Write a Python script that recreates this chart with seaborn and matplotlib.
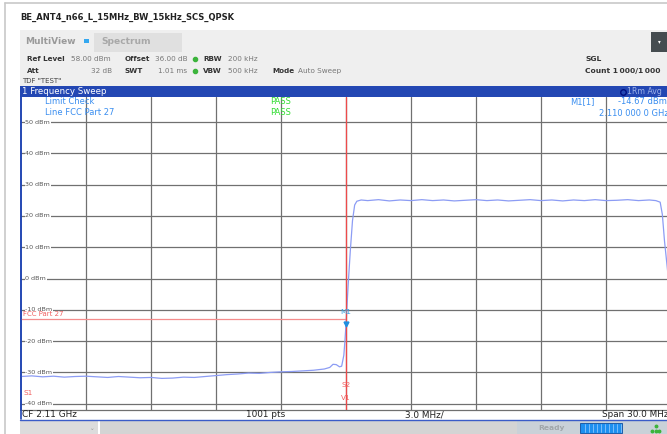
import numpy as np
import pandas as pd
import matplotlib
matplotlib.use("Agg")
import matplotlib.pyplot as plt
from matplotlib.patches import Rectangle
from matplotlib.lines import Line2D
import seaborn as sns

# trace (frequency in MHz, level in dBm)
freq_mhz = [2095.0, 2095.5, 2096.0, 2096.5, 2097.0, 2097.5, 2098.0, 2098.5, 2099.0, 2099.5,
            2100.0, 2100.5, 2101.0, 2101.5, 2102.0, 2102.5, 2103.0, 2103.5, 2104.0, 2104.5,
            2105.0, 2105.5, 2106.0, 2106.5, 2107.0, 2107.5, 2108.0, 2108.5, 2109.0, 2109.25,
            2109.4, 2109.55, 2109.7, 2109.8, 2109.9, 2109.95, 2110.0, 2110.1, 2110.2, 2110.3,
            2110.4, 2110.5, 2110.7, 2111.0, 2111.5, 2112.0, 2112.5, 2113.0, 2113.5, 2114.0,
            2114.5, 2115.0, 2115.5, 2116.0, 2116.5, 2117.0, 2117.5, 2118.0, 2118.5, 2119.0,
            2119.5, 2120.0, 2120.5, 2121.0, 2121.5, 2122.0, 2122.5, 2123.0, 2123.5, 2124.0,
            2124.3, 2124.5, 2124.6, 2124.7, 2124.85]
level_dbm = [-31.3, -31.1, -31.4, -31.2, -31.5, -31.3, -31.2, -31.4, -31.6, -31.3,
             -31.5, -31.7, -31.6, -31.9, -31.8, -31.5, -31.6, -31.3, -31.0, -30.7,
             -30.5, -30.2, -30.3, -30.0, -29.8, -29.7, -29.5, -29.3, -28.9, -28.4,
             -27.4, -27.5, -28.2, -28.0, -24.5, -20.0, -14.67, -2.0, 9.0, 18.5,
             23.5, 24.7, 25.1, 24.9, 25.2, 24.8, 25.1, 24.9, 25.2, 24.9,
             25.1, 24.8, 25.0, 25.2, 24.9, 25.1, 24.8, 25.0, 25.2, 24.9,
             25.1, 24.8, 25.1, 24.9, 25.2, 24.9, 25.0, 25.2, 24.9, 25.1,
             24.9, 24.4, 20.5, 12.0, 2.0]

y_ticks = [50, 40, 30, 20, 10, 0, -10, -20, -30, -40]
x_grid = [2098, 2101, 2104, 2107, 2110, 2113, 2116, 2119, 2122]
limit_freq = [2095.0, 2110.0]
limit_level = [-13.0, -13.0]
marker_freq = 2110.0
marker_level = -14.67

W, H = 667, 434
sns.set_style("white")
plt.rcParams["font.family"] = ["DejaVu Sans"]

fig = plt.figure(figsize=(W / 100, H / 100), dpi=100)
fig.patch.set_facecolor("white")


def fx(x):
    return x / W


def fy(y):
    return 1 - y / H


def rect(x0, y0, x1, y1, color, **kw):
    fig.add_artist(Rectangle((fx(x0), fy(y1)), fx(x1 - x0), (y1 - y0) / H,
                             transform=fig.transFigure, facecolor=color,
                             edgecolor=kw.pop("ec", "none"), lw=kw.pop("lw", 0), **kw))


def line(xs, ys, color, lw=1.0):
    fig.add_artist(Line2D([fx(x) for x in xs], [fy(y) for y in ys],
                          transform=fig.transFigure, color=color, lw=lw))


def txt(x, y, s, **kw):
    fig.text(fx(x), fy(y), s, va="center", **kw)


# outer frame of the screenshot
line([5, 5], [3, 434], "#c8c8c8", 1.2)
line([5, 667], [3, 3], "#c8c8c8", 1.2)

txt(20, 17, "BE_ANT4_n66_L_15MHz_BW_15kHz_SCS_QPSK", fontsize=6.0,
    fontweight="bold", color="#222222")

# header panel
rect(20, 30, 667, 86, "#efefef")
rect(94, 33, 182, 52, "#e0e0e0")
txt(25, 42, "MultiView", fontsize=6.5, fontweight="bold", color="#9a9a9a")
rect(84, 39, 89, 43, "#35a8f0")
txt(101, 42, "Spectrum", fontsize=6.6, fontweight="bold", color="#a8a8a8")
rect(651, 32, 667, 52, "#454c50")
txt(659, 42, "\u25be", fontsize=4, color="white", ha="center")

lab = dict(fontsize=5.2, fontweight="bold", color="#333333")
val = dict(fontsize=5.2, color="#777777")
txt(27, 59, "Ref Level", **lab)
txt(71, 59, "58.00 dBm", **val)
txt(125, 59, "Offset", **lab)
txt(155, 59, "36.00 dB", **val)
txt(203, 59, "RBW", **lab)
txt(228, 59, "200 kHz", **val)
txt(27, 71, "Att", **lab)
txt(112, 71, "32 dB", ha="right", **val)
txt(125, 71, "SWT", **lab)
txt(158, 71, "1.01 ms", **val)
txt(203, 71, "VBW", **lab)
txt(228, 71, "500 kHz", **val)
txt(272, 71, "Mode", **lab)
txt(298, 71, "Auto Sweep", **val)
for yy in (59, 71):
    fig.add_artist(Line2D([fx(195)], [fy(yy)], transform=fig.transFigure, marker="o",
                          ms=3, color="#3cb43c", lw=0))
txt(22, 81, 'TDF "TEST"', fontsize=5, color="#444444")
txt(585, 59, "SGL", fontsize=5.4, fontweight="bold", color="#333333")
txt(585, 71, "Count 1\u2009000/1\u2009000", fontsize=5.4, fontweight="bold", color="#333333")

# window title bar
rect(20, 86, 667, 97, "#2347b3")
txt(22, 91.5, "1 Frequency Sweep", fontsize=6.2, color="white")
fig.add_artist(Line2D([fx(623)], [fy(91.5)], transform=fig.transFigure, marker="o",
                      ms=4, mfc="none", mec="#001080", mew=1, lw=0))
txt(627, 91.5, "1Rm Avg", fontsize=5.6, color="#9fb3e8")

# diagram
ax = fig.add_axes([fx(21), fy(410), 650 / W, 313 / H])
df = pd.DataFrame({"freq": np.array(freq_mhz) / 1000, "level": level_dbm})
sns.lineplot(data=df, x="freq", y="level", ax=ax, color="#8c9cf4", lw=0.9, zorder=4)
ax.set_xlim(2.095, 2.125)
ax.set_ylim(-42, 58)
for v in y_ticks:
    ax.axhline(v, color="#707070", lw=0.9, zorder=1)
    ax.text(2.0952, v, f"{v} dBm", fontsize=4.6, color="#555555", va="center",
            ha="left", zorder=3,
            bbox=dict(facecolor="white", edgecolor="none", pad=0.4))
for f in x_grid:
    ax.axvline(f / 1000, color="#707070", lw=0.9, zorder=1)
ax.set_xticks([])
ax.set_yticks([])
ax.set_xlabel("")
ax.set_ylabel("")
for s in ("top", "right"):
    ax.spines[s].set_visible(False)
ax.spines["bottom"].set_color("#707070")
ax.spines["bottom"].set_linewidth(0.9)
ax.spines["left"].set_color("#2347b3")
ax.spines["left"].set_linewidth(1.2)

# limit line, display line, marker
ax.plot(np.array(limit_freq) / 1000, limit_level, color="#f48c8c", lw=0.9, zorder=3)
ax.axvline(marker_freq / 1000, color="#ee4a4a", lw=0.9, zorder=5)
ax.plot(marker_freq / 1000, marker_level, marker="v", ms=3.5, color="#1f8ee0", zorder=6)
ax.text(marker_freq / 1000, -10.6, "M1", fontsize=5.2, color="#3aa6e6", ha="center",
        va="center", zorder=6)
ax.text(2.0951, -11.2, "FCC Part 27", fontsize=5, color="#f06060", va="center", zorder=4)
ax.text(2.0951, -36.6, "S1", fontsize=5.2, color="#f06060", va="center", zorder=4)
ax.text(marker_freq / 1000, -34.0, "S2", fontsize=5.2, color="#f06060", ha="center",
        va="center", zorder=6)
ax.text(marker_freq / 1000, -38.2, "V1", fontsize=5.2, color="#f06060", ha="center",
        va="center", zorder=6)

# limit check result and marker table
blue = "#3a8ef0"
green = "#33dd33"
txt(45, 102, "Limit Check", fontsize=6, color=blue)
txt(45, 113, "Line FCC Part 27", fontsize=6, color=blue)
txt(270, 102, "PASS", fontsize=6, color=green)
txt(270, 113, "PASS", fontsize=6, color=green)
txt(570, 102, "M1[1]", fontsize=6, color=blue)
txt(618, 102, "-14.67 dBm", fontsize=6, color=blue)
txt(599, 114, "2.110 000 0 GHz", fontsize=6, color=blue)

# footer of the diagram
line([21, 21], [97, 419], "#2347b3", 1.2)
txt(22, 414.5, "CF 2.11 GHz", fontsize=6.4, color="#222222")
txt(246, 414.5, "1001 pts", fontsize=6.4, color="#222222")
txt(405, 414.5, "3.0 MHz/", fontsize=6.4, color="#222222")
txt(668, 414.5, "Span 30.0 MHz", fontsize=6.4, color="#222222", ha="right")
line([20, 667], [419.5, 419.5], "#3a5cc8", 1.0)

# status bar
rect(20, 420, 98, 434, "#dcdcdc")
rect(100, 420, 517, 434, "#d4d4d4")
rect(517, 420, 667, 434, "#c9d1d8")
txt(92, 428, "\u2304", fontsize=4, color="#999999", ha="center")
txt(538, 428, "Ready", fontsize=5.4, fontweight="bold", color="#a0a6aa")
rect(580, 423, 622, 433, "#1e90f0", ec="#1050a0", lw=0.6)
for xx in range(585, 622, 4):
    line([xx, xx], [424, 432], "#a0d0ff", 0.5)
fig.add_artist(Line2D([fx(652), fx(655.5), fx(659), fx(655.5)],
                      [fy(431), fy(426), fy(431), fy(431)],
                      transform=fig.transFigure, marker="o", ms=1.8, lw=0,
                      color="#3cb43c"))

fig.savefig("out.png", dpi=100)
